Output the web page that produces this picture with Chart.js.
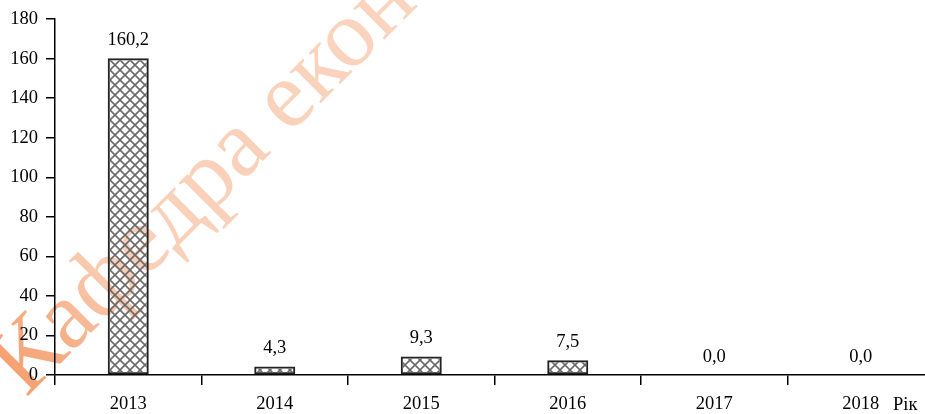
<!DOCTYPE html>
<html>
<head>
<meta charset="utf-8">
<script src="https://cdn.jsdelivr.net/npm/chart.js@4"></script>
<style>
  html, body { margin: 0; padding: 0; background: #fff; overflow: hidden; }
  #wrap { position: relative; width: 934px; height: 414px; }
</style>
</head>
<body>
<div id="wrap"><canvas id="chart"></canvas></div>
<script>
const years = ['2013', '2014', '2015', '2016', '2017', '2018'];
const values = [160.2, 4.3, 9.3, 7.5, 0.0, 0.0];
const yMin = 0, yMax = 180, yStep = 20;
const axisTitle = 'Рік';
const watermarkText = 'Кафедра економіки';

const FONT = "'Liberation Serif', 'Times New Roman', serif";
const FSIZE = 18.5;

// crosshatch fill for the bars
function makeHatch(){
  const c = document.createElement('canvas');
  c.width = 10; c.height = 10;
  const g = c.getContext('2d');
  g.strokeStyle = '#6a6a6a';
  g.lineWidth = 1.6;
  g.beginPath();
  g.moveTo(-2, -2); g.lineTo(12, 12);
  g.moveTo(12, -2); g.lineTo(-2, 12);
  g.stroke();
  return g.createPattern(c, 'repeat');
}

const watermark = {
  id: 'watermark',
  beforeDraw(chart){
    const ctx = chart.ctx;
    ctx.save();
    ctx.translate(26, 398);
    ctx.rotate(-45 * Math.PI / 180);
    ctx.font = '96px ' + FONT;
    const grad = ctx.createLinearGradient(0, 0, 700, 0);
    grad.addColorStop(0, '#f59f6f');
    grad.addColorStop(0.1, '#f6b088');
    grad.addColorStop(0.22, '#f9cfb7');
    grad.addColorStop(1, '#fad6c2');
    ctx.fillStyle = grad;
    ctx.textBaseline = 'alphabetic';
    ctx.fillText(watermarkText, 0, 0);
    ctx.restore();
  }
};

const barLabels = {
  id: 'barLabels',
  afterDatasetsDraw(chart){
    const ctx = chart.ctx;
    const meta = chart.getDatasetMeta(0);
    ctx.save();
    ctx.font = FSIZE + 'px ' + FONT;
    ctx.fillStyle = '#000';
    ctx.textAlign = 'center';
    ctx.textBaseline = 'bottom';
    meta.data.forEach((bar, i) => {
      const txt = values[i].toFixed(1).replace('.', ',');
      ctx.fillText(txt, bar.x, bar.y - 9);
    });
    ctx.restore();
  }
};

const axisName = {
  id: 'axisName',
  afterDraw(chart){
    const ctx = chart.ctx;
    ctx.save();
    ctx.font = FSIZE + 'px ' + FONT;
    ctx.fillStyle = '#000';
    ctx.textAlign = 'left';
    ctx.textBaseline = 'middle';
    ctx.fillText(axisTitle, 893, 405);
    ctx.restore();
  }
};

function draw(){
  new Chart(document.getElementById('chart'), {
    type: 'bar',
    data: {
      labels: years,
      datasets: [{
        data: values,
        backgroundColor: makeHatch(),
        borderColor: '#222',
        borderWidth: 2,
        borderSkipped: false,
        barPercentage: 0.56,
        categoryPercentage: 0.5
      }]
    },
    options: {
      responsive: true,
      maintainAspectRatio: false,
      animation: false,
      layout: { padding: { top: 17, right: 0, left: 0, bottom: 0 } },
      plugins: { legend: { display: false }, tooltip: { enabled: false } },
      scales: {
        x: {
          afterFit(scale){ scale.height = 39; },
          grid: { offset: true, drawOnChartArea: false, tickLength: 10, color: '#000', lineWidth: 1.5 },
          border: { display: true, color: '#000', width: 1.5 },
          ticks: { color: '#000', font: { family: FONT, size: FSIZE }, padding: 8, maxRotation: 0 }
        },
        y: {
          min: yMin, max: yMax,
          afterFit(scale){ scale.width = 55; },
          grid: { drawOnChartArea: false, tickLength: 9, color: '#000', lineWidth: 1.5 },
          border: { display: true, color: '#000', width: 1.5 },
          ticks: { stepSize: yStep, color: '#000', font: { family: FONT, size: FSIZE }, padding: 8 }
        }
      }
    },
    plugins: [watermark, barLabels, axisName]
  });
}

Promise.all([
  document.fonts.load(FSIZE + "px 'Liberation Serif'"),
  document.fonts.load("96px 'Liberation Serif'")
]).then(draw, draw);
</script>
</body>
</html>
